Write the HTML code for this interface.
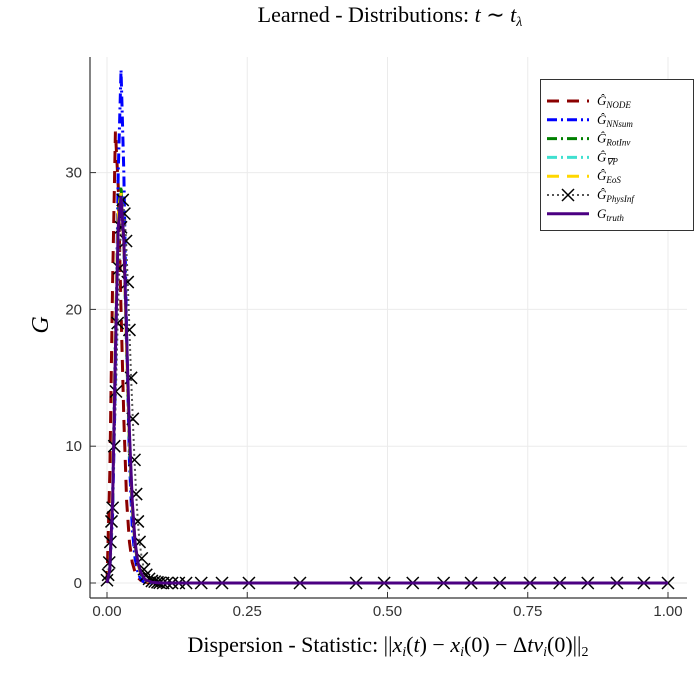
<!DOCTYPE html>
<html><head><meta charset="utf-8"><style>
body{margin:0;background:#fff;}
svg{display:block;}
text{font-family:"Liberation Sans",sans-serif;}
.serif{font-family:"Liberation Serif",serif;}
</style></head><body>
<svg id="chart" width="699" height="700" viewBox="0 0 699 700">
<text class="serif" x="390" y="22" font-size="22" text-anchor="middle">Learned - Distributions: <tspan font-style="italic">t</tspan> ∼ <tspan font-style="italic">t</tspan><tspan font-size="14" dy="4" font-style="italic">λ</tspan></text>
<text class="serif" x="48" y="325" font-size="24" font-style="italic" text-anchor="middle" transform="rotate(-90 48 325)">G</text>
<text class="serif" x="388" y="652" font-size="22" text-anchor="middle">Dispersion - Statistic: ||<tspan font-style="italic">x</tspan><tspan font-size="14" dy="4" font-style="italic">i</tspan><tspan dy="-4">(</tspan><tspan font-style="italic">t</tspan>) − <tspan font-style="italic">x</tspan><tspan font-size="14" dy="4" font-style="italic">i</tspan><tspan dy="-4">(0) − Δ</tspan><tspan font-style="italic">tv</tspan><tspan font-size="14" dy="4" font-style="italic">i</tspan><tspan dy="-4">(0)||</tspan><tspan font-size="14" dy="4">2</tspan></text>
<g id="grid"></g>
<g id="series"></g>
<g id="axes"></g>
<g id="legend"></g>
</svg>
<script>
const xTicks=[0,0.25,0.5,0.75,1.0];
const xTickLabels=["0.00","0.25","0.50","0.75","1.00"];
const yTicks=[0,10,20,30];
const yTickLabels=["0","10","20","30"];
const xs=[0,0.005,0.01,0.015,0.02,0.025,0.03,0.035,0.04,0.045,0.05,0.055,0.06,0.065,0.07,0.08,0.09,0.1,1.0];
const gTruth=[0,1,6,17,26,28.3,25,18,11,6,3,1.5,0.8,0.4,0.2,0.05,0.02,0,0];
const gNode=[0,8,22,33,29,20,12,6,3,1.5,0.8,0.4,0.2,0.1,0.05,0,0,0,0];
const gNNsum=[0,1,5,15,30,37.5,30,18,9,4,1.8,0.8,0.3,0.1,0.05,0,0,0,0];
const gRotInv=[0,1,6,18,27,29,25,17,10,5.5,2.8,1.4,0.7,0.3,0.15,0.05,0,0,0];
const gGradP=[0,1,6,17.5,26.5,28.5,25,17.5,10.5,5.8,2.9,1.5,0.7,0.3,0.15,0.05,0,0,0];
const gEoS=[0,1.2,6.5,18,27,28.5,24.5,17,10.5,5.8,2.9,1.4,0.7,0.3,0.15,0.05,0,0,0];
const pxs=[0,0.002,0.004,0.006,0.008,0.01,0.013,0.016,0.019,0.022,0.025,0.028,0.031,0.034,0.037,0.04,0.043,0.046,0.049,0.052,0.055,0.058,0.062,0.066,0.07,0.075,0.08,0.085,0.09,0.094,0.1,0.107,0.116,0.128,0.141,0.168,0.205,0.253,0.344,0.444,0.494,0.545,0.6,0.649,0.70,0.754,0.807,0.857,0.909,0.957,1.0];
const pPhys=[0.2,0.6,1.5,3,4.5,5.5,10,14,19,23,26,28,27,25,22,18.5,15,12,9,6.5,4.5,3,1.8,1,0.6,0.3,0.15,0.1,0.05,0.02,0,0,0,0,0,0,0,0,0,0,0,0,0,0,0,0,0,0,0,0,0];
const X0=107,X1=668,Y0=583,YS=13.68;
const sx=v=>X0+(X1-X0)*v, sy=v=>Y0-YS*v;
const NS="http://www.w3.org/2000/svg";
function mk(tag,attrs,parent){const e=document.createElementNS(NS,tag);for(const k in attrs)e.setAttribute(k,attrs[k]);parent.appendChild(e);return e;}
const grid=document.getElementById('grid'),axes=document.getElementById('axes'),ser=document.getElementById('series'),leg=document.getElementById('legend');
xTicks.forEach((t,i)=>{
 const l=mk('line',{x1:sx(t),x2:sx(t),y1:57,y2:598,stroke:'#ebebeb','stroke-width':1},grid);
 
 
 const tk=mk('line',{x1:sx(t),x2:sx(t),y1:598,y2:592,stroke:'#333'},axes);
 
 
 const tx=mk('text',{x:sx(t),y:616,'font-size':15,'text-anchor':'middle',fill:'#333'},axes);tx.textContent=xTickLabels[i];
 
 
});
yTicks.forEach((t,i)=>{
 const l=mk('line',{x1:90,x2:687,y1:sy(t),y2:sy(t),stroke:'#ebebeb','stroke-width':1},grid);
 
 
 const tk=mk('line',{x1:90,x2:96,y1:sy(t),y2:sy(t),stroke:'#333'},axes);
 
 
 const tx=mk('text',{x:82,y:sy(t)+5,'font-size':15,'text-anchor':'end',fill:'#333'},axes);tx.textContent=yTickLabels[i];
 
 
});
const la=mk('line',{x1:90,x2:90,y1:57,y2:598,stroke:'#333','stroke-width':1.2},axes);


const ba=mk('line',{x1:90,x2:687,y1:598,y2:598,stroke:'#333','stroke-width':1.2},axes);


const specs=[
 {name:'node',vals:gNode,c:'#8b0000',d:'12 8'},
 {name:'nnsum',vals:gNNsum,c:'#0000ff',d:'10 4 2 4'},
 {name:'rotinv',vals:gRotInv,c:'#008000',d:'10 4 2 4'},
 {name:'gradp',vals:gGradP,c:'#40e0d0',d:'10 4 2 4'},
 {name:'eos',vals:gEoS,c:'#ffd700',d:'12 8'},
];
specs.forEach(s=>{
 const p=mk('polyline',{points:xs.map((x,i)=>sx(x)+','+sy(s.vals[i])).join(' '),fill:'none',stroke:s.c,'stroke-width':3,'stroke-dasharray':s.d},ser);
 
 
});
const pl=mk('polyline',{points:pxs.map((x,i)=>sx(x)+','+sy(pPhys[i])).join(' '),fill:'none',stroke:'#555','stroke-width':2,'stroke-dasharray':'2 3'},ser);


function cross(cx,cy,r,parent){return mk('path',{d:`M${cx-r},${cy-r}L${cx+r},${cy+r}M${cx-r},${cy+r}L${cx+r},${cy-r}`,stroke:'#000','stroke-width':1.5,fill:'none'},parent);}
pxs.forEach((x,i)=>{
 const m=cross(sx(x),sy(pPhys[i]),6,ser);
 
 
});
const tr=mk('polyline',{points:xs.map((x,i)=>sx(x)+','+sy(gTruth[i])).join(' '),fill:'none',stroke:'#4b0082','stroke-width':3},ser);


// legend
const lb=mk('rect',{x:540.5,y:79.5,width:153,height:151,fill:'#fff',stroke:'#333','stroke-width':1},leg);


const labels=[['G','NODE',true],['G','NNsum',true],['G','RotInv',true],['G','∇P',true],['G','EoS',true],['G','PhysInf',true],['G','truth',false]];
const legSpecs=[...specs.map(s=>({c:s.c,d:s.d,w:3})),{c:'#555',d:'2 3',w:2},{c:'#4b0082',d:'',w:3}];
labels.forEach((lab,i)=>{
 const y=101+i*18.8;
 const g=mk('g',{},leg);
 
 
 const s=legSpecs[i];
 mk('line',{x1:547,x2:589,y1:y,y2:y,stroke:s.c,'stroke-width':s.w,'stroke-dasharray':s.d},g);
 if(i===5)cross(568,y,6,g);
 const t=mk('text',{class:'serif',x:597,y:y+4,'font-size':13,'font-style':'italic'},g);
 t.innerHTML=(lab[2]?'Ĝ':'G')+'<tspan font-size="9" dy="3">'+lab[1]+'</tspan>';
});
</script>
</body></html>
